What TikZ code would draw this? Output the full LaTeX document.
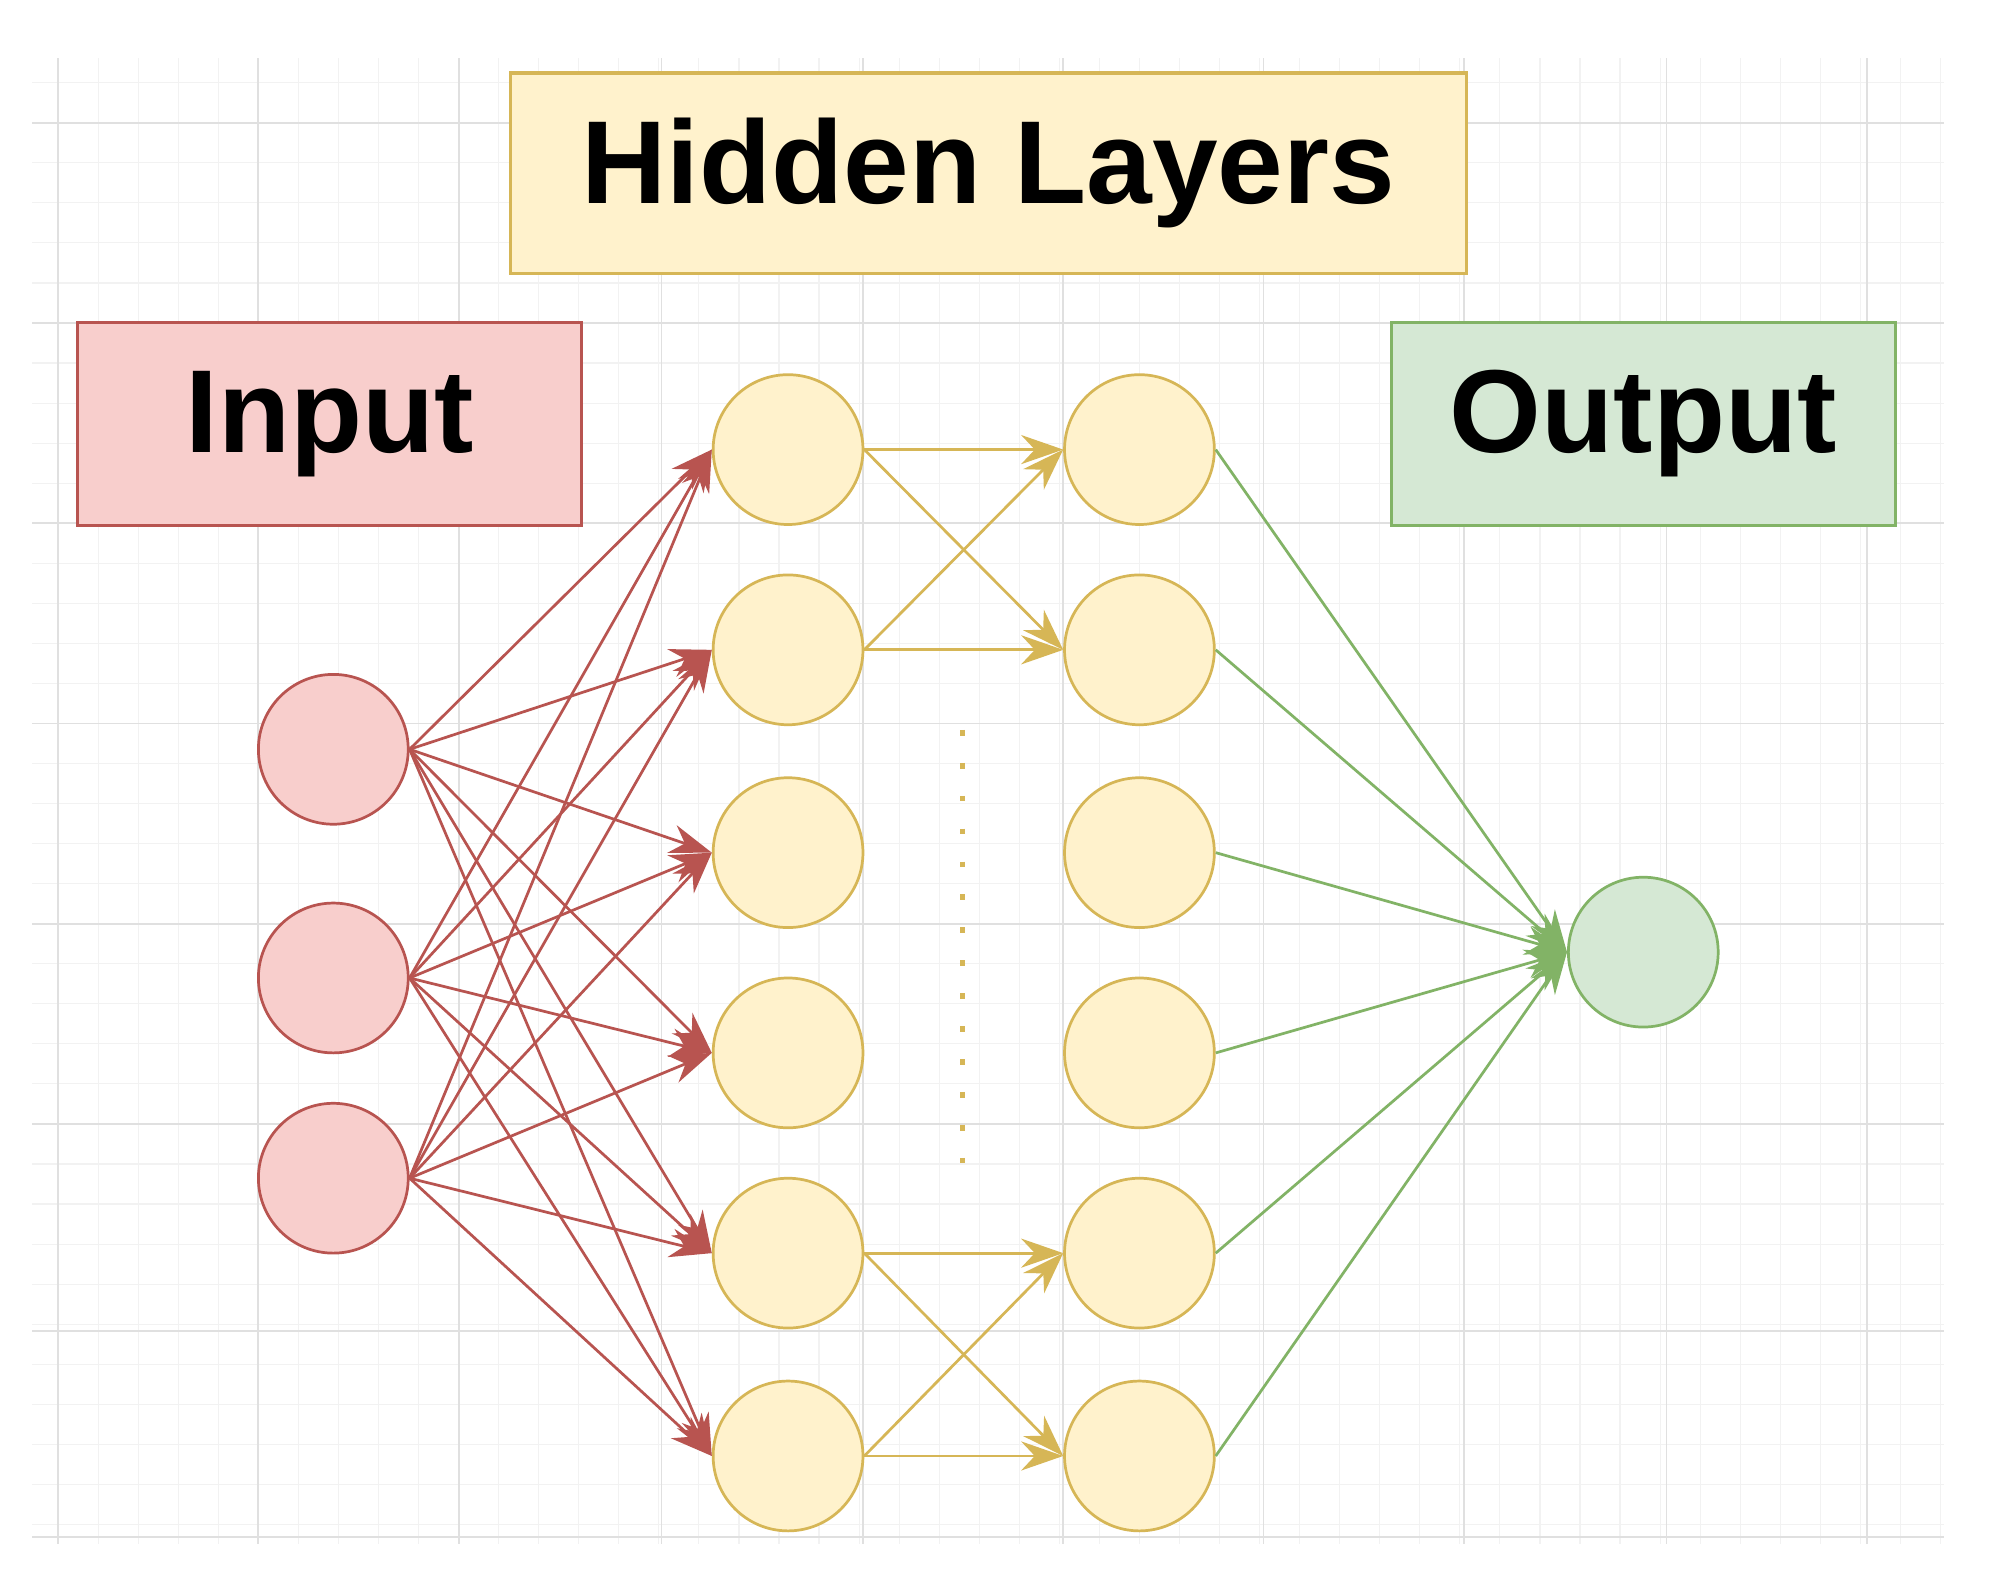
\documentclass[tikz,border=0pt]{standalone}
\usepackage{fontspec}
\setmainfont{Liberation Sans}
\usetikzlibrary{arrows.meta}
\definecolor{rf}{HTML}{F8CECC}\definecolor{rd}{HTML}{B85450}
\definecolor{yf}{HTML}{FFF2CC}\definecolor{yd}{HTML}{D6B656}
\definecolor{gf}{HTML}{D5E8D4}\definecolor{gd}{HTML}{82B366}
\begin{document}
\begin{tikzpicture}[x=0.02cm,y=-0.02cm,
 neu/.style={circle,minimum size=2.32cm,inner sep=0pt,line width=1.2pt},
 lab/.style={line width=1.4pt,inner sep=0pt,font=\fontsize{52}{60}\selectfont\bfseries},
 ar/.style={line width=1.2pt,-{Stealth[length=0.65cm,width=0.45cm]}}]
\fill[white] (0,0) rectangle (1552,1232);
\useasboundingbox (0,0) rectangle (1552,1232);
\foreach \x in {45,76,...,1505}{\draw[black!5,line width=0.5pt] (\x,45)--(\x,1195);}
\foreach \y in {64,95,...,1195}{\draw[black!5,line width=0.5pt] (25,\y)--(1505,\y);}
\foreach \x in {45,200,355,512,668,823,978,1133,1290,1445}{\draw[black!12,line width=0.8pt] (\x,45)--(\x,1195);}
\foreach \y in {95,250,405,560,715,870,1030,1190}{\draw[black!12,line width=0.8pt] (25,\y)--(1505,\y);}
\node[lab,draw=yd,fill=yf,minimum width=14.8cm,minimum height=3.1cm] (hl) at (765,134) {Hidden Layers};
\node[lab,draw=rd,fill=rf,minimum width=7.8cm,minimum height=3.14cm] (in) at (255,328) {Input};
\node[lab,draw=gd,fill=gf,minimum width=7.8cm,minimum height=3.14cm] (out) at (1272,328) {Output};
\foreach \i/\y in {1/580,2/757,3/912}{\node[neu,draw=rd,fill=rf] (i\i) at (258,\y) {};}
\foreach \i/\y in {1/348,2/503,3/660,4/815,5/970,6/1127}{
 \node[neu,draw=yd,fill=yf] (a\i) at (610,\y) {};
 \node[neu,draw=yd,fill=yf] (b\i) at (882,\y) {};}
\node[neu,draw=gd,fill=gf] (o) at (1272,737) {};
\draw[yd,line width=2.5pt,dash pattern=on 2.5pt off 12pt] (745,565)--(745,910);
\foreach \i in {1,2,3}{\foreach \j in {1,...,6}{\draw[ar,rd] (i\i.east) -- (a\j.west);}}
\foreach \p/\q in {1/1,1/2,2/1,2/2,5/5,5/6,6/5,6/6}{\draw[ar,yd] (a\p.east) -- (b\q.west);}
\foreach \j in {1,...,6}{\draw[ar,gd] (b\j.east) -- (o.west);}
\end{tikzpicture}
\end{document}
